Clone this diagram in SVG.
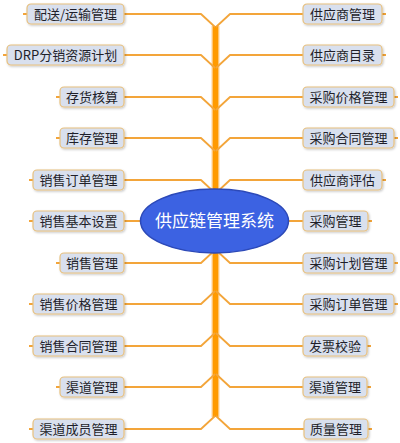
<svg xmlns="http://www.w3.org/2000/svg" width="400" height="443" viewBox="0 0 400 443">
<defs>
<filter id="sh" x="-10%" y="-20%" width="130%" height="160%">
<feDropShadow dx="1" dy="1.2" stdDeviation="0.9" flood-color="#000" flood-opacity="0.22"/>
</filter>
<style>
.br{fill:none;stroke:#f3a53a;stroke-width:1.8;stroke-linejoin:round}
.box rect{fill:#d9e0ee;stroke:#e8c07e;stroke-width:1.2;filter:url(#sh)}
.box text{font-family:"Noto Sans CJK SC","Noto Sans",sans-serif;font-size:13px;fill:#1f1f2a;text-anchor:middle}
.ctr text{font-family:"Noto Sans CJK SC","Noto Sans",sans-serif;font-size:17px;fill:#ffffff;text-anchor:middle}
</style>
</defs>
<rect width="400" height="443" fill="#ffffff"/>
<g id="connectors">
<line x1="215.5" y1="26" x2="215.5" y2="417" stroke="#ffd49a" stroke-width="8"/>
<line x1="215.5" y1="26" x2="215.5" y2="417" stroke="#ff9a00" stroke-width="5.5"/>
<path class="br" d="M23,14 H201 L215,27"/>
<path class="br" d="M3,55 H201 L215,68"/>
<path class="br" d="M56,97 H201 L215,110"/>
<path class="br" d="M56,138 H201 L215,151"/>
<path class="br" d="M29,180 H201 L215,193"/>
<path class="br" d="M29,221 H142"/>
<path class="br" d="M56,263 H201 L215,250"/>
<path class="br" d="M29,304 H201 L215,291"/>
<path class="br" d="M29,346 H201 L215,333"/>
<path class="br" d="M56,387 H201 L215,374"/>
<path class="br" d="M29,429 H201 L215,416"/>
<path class="br" d="M216,27 L230,14 H386"/>
<path class="br" d="M216,68 L230,55 H386"/>
<path class="br" d="M216,110 L230,97 H398"/>
<path class="br" d="M216,151 L230,138 H398"/>
<path class="br" d="M216,193 L230,180 H386"/>
<path class="br" d="M287,221 H372"/>
<path class="br" d="M216,250 L230,263 H398"/>
<path class="br" d="M216,291 L230,304 H398"/>
<path class="br" d="M216,333 L230,346 H371"/>
<path class="br" d="M216,374 L230,387 H371"/>
<path class="br" d="M216,416 L230,429 H372"/>
</g>
<g id="center" class="ctr">
<ellipse cx="214.5" cy="221" rx="74" ry="32" fill="#3c62e2" stroke="#2c49b8" stroke-width="1.5"/>
<text x="214.5" y="227">供应链管理系统</text>
</g>
<g id="n-peisong" class="box"><rect x="27" y="4" width="97" height="20" rx="4"/><text x="75.5" y="18.5">配送/运输管理</text></g>
<g id="n-drp" class="box"><rect x="7" y="45" width="117" height="20" rx="4"/><text x="65.5" y="59.5">DRP分销资源计划</text></g>
<g id="n-cunhuo" class="box"><rect x="60" y="87" width="64" height="20" rx="4"/><text x="92" y="101.5">存货核算</text></g>
<g id="n-kucun" class="box"><rect x="60" y="128" width="64" height="20" rx="4"/><text x="92" y="142.5">库存管理</text></g>
<g id="n-xsdd" class="box"><rect x="33" y="170" width="91" height="20" rx="4"/><text x="78.5" y="184.5">销售订单管理</text></g>
<g id="n-xsjb" class="box"><rect x="33" y="211" width="91" height="20" rx="4"/><text x="78.5" y="225.5">销售基本设置</text></g>
<g id="n-xsgl" class="box"><rect x="60" y="253" width="64" height="20" rx="4"/><text x="92" y="267.5">销售管理</text></g>
<g id="n-xsjg" class="box"><rect x="33" y="294" width="91" height="20" rx="4"/><text x="78.5" y="308.5">销售价格管理</text></g>
<g id="n-xsht" class="box"><rect x="33" y="336" width="91" height="20" rx="4"/><text x="78.5" y="350.5">销售合同管理</text></g>
<g id="n-qdgl-l" class="box"><rect x="60" y="377" width="64" height="20" rx="4"/><text x="92" y="391.5">渠道管理</text></g>
<g id="n-qdcy" class="box"><rect x="33" y="419" width="91" height="20" rx="4"/><text x="78.5" y="433.5">渠道成员管理</text></g>
<g id="n-gysgl" class="box"><rect x="303" y="4" width="79" height="20" rx="4"/><text x="342.5" y="18.5">供应商管理</text></g>
<g id="n-gysml" class="box"><rect x="303" y="45" width="79" height="20" rx="4"/><text x="342.5" y="59.5">供应商目录</text></g>
<g id="n-cgjg" class="box"><rect x="303" y="87" width="91" height="20" rx="4"/><text x="348.5" y="101.5">采购价格管理</text></g>
<g id="n-cght" class="box"><rect x="303" y="128" width="91" height="20" rx="4"/><text x="348.5" y="142.5">采购合同管理</text></g>
<g id="n-gyspg" class="box"><rect x="303" y="170" width="79" height="20" rx="4"/><text x="342.5" y="184.5">供应商评估</text></g>
<g id="n-cggl" class="box"><rect x="303" y="211" width="65" height="20" rx="4"/><text x="335.5" y="225.5">采购管理</text></g>
<g id="n-cgjh" class="box"><rect x="303" y="253" width="91" height="20" rx="4"/><text x="348.5" y="267.5">采购计划管理</text></g>
<g id="n-cgdd" class="box"><rect x="303" y="294" width="91" height="20" rx="4"/><text x="348.5" y="308.5">采购订单管理</text></g>
<g id="n-fpjy" class="box"><rect x="303" y="336" width="64" height="20" rx="4"/><text x="335" y="350.5">发票校验</text></g>
<g id="n-qdgl-r" class="box"><rect x="303" y="377" width="64" height="20" rx="4"/><text x="335" y="391.5">渠道管理</text></g>
<g id="n-zlgl" class="box"><rect x="304" y="419" width="64" height="20" rx="4"/><text x="336" y="433.5">质量管理</text></g>
</svg>
